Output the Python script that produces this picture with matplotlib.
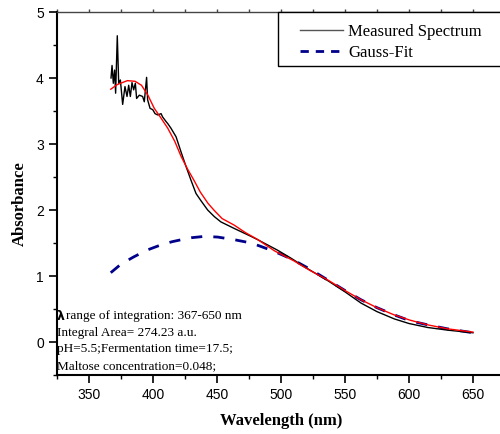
import matplotlib
matplotlib.use("Agg")
import matplotlib.pyplot as plt
from matplotlib.ticker import MultipleLocator
from matplotlib.lines import Line2D
from matplotlib.patches import Rectangle

# ---- data ----
measured_wl = [367.2, 368, 369, 370, 370.8, 372.1, 373.2, 374.5, 376.3, 378.1, 379.7, 381,
               382.3, 383.6, 384.9, 386.2, 387.2, 389.3, 391.9, 393.2, 395.0, 395.8, 397.7,
               399.8, 401.6, 403.7, 406.3, 407.5, 410.2, 411.5, 414, 418, 421.9, 425.8,
               429.7, 433.6, 437.5, 442.7, 447.9, 453, 463.5, 476.6, 481.8, 497.4, 507.8,
               520, 536.5, 550, 562.5, 575, 588.5, 600, 614.6, 630, 650]
measured_abs = [4.0, 4.19, 3.92, 4.12, 3.77, 4.64, 3.92, 3.97, 3.60, 3.87, 3.72, 3.89,
                3.72, 3.93, 3.82, 3.92, 3.69, 3.74, 3.72, 3.64, 4.01, 3.67, 3.54,
                3.52, 3.46, 3.44, 3.46, 3.41, 3.34, 3.31, 3.24, 3.11, 2.88, 2.66,
                2.45, 2.25, 2.14, 2.0, 1.90, 1.82, 1.72, 1.60, 1.55, 1.39, 1.27,
                1.12, 0.93, 0.76, 0.59, 0.46, 0.35, 0.28, 0.22, 0.18, 0.14]

fit_wl = [367, 372, 380, 386, 391, 396, 401, 406, 411.5, 417, 422, 427, 432, 437, 443, 448,
          454, 463.5, 472, 482, 495, 510, 523, 536.5, 550, 562.5, 575, 588.5, 601, 614.6,
          630, 650]
fit_abs = [3.83, 3.90, 3.96, 3.95, 3.89, 3.74, 3.54, 3.40, 3.24, 3.04, 2.81, 2.62, 2.45,
           2.27, 2.10, 1.99, 1.87, 1.77, 1.66, 1.55, 1.38, 1.23, 1.08, 0.94, 0.78, 0.64,
           0.52, 0.41, 0.33, 0.26, 0.20, 0.15]

gauss_wl = [367, 375, 385, 395, 406, 415, 424.5, 430, 440, 450.5, 463.5, 476.6, 484, 495,
            508, 523, 536.5, 550, 562.5, 575, 588.5, 601, 614.6, 630, 650]
gauss_abs = [1.05, 1.18, 1.29, 1.39, 1.47, 1.52, 1.56, 1.58, 1.60, 1.59, 1.55, 1.50, 1.45,
             1.37, 1.26, 1.10, 0.94, 0.78, 0.64, 0.52, 0.41, 0.32, 0.26, 0.20, 0.14]

x_ticks = [350, 400, 450, 500, 550, 600, 650]
y_ticks = [0, 1, 2, 3, 4, 5]
legend_labels = ["Measured Spectrum", "Gauss-Fit"]
info_lines = ["range of integration: 367-650 nm",
              "Integral Area= 274.23 a.u.",
              "pH=5.5;Fermentation time=17.5;",
              "Maltose concentration=0.048;"]

W, H = 500, 434
fig = plt.figure(figsize=(W / 100, H / 100), dpi=100)
ax = fig.add_axes([57 / W, 1 - 375 / H, 1 - 57 / W + 0.01, (375 - 12) / H])

ax.plot(measured_wl, measured_abs, color="black", lw=1.0, zorder=3)
ax.plot(fit_wl, fit_abs, color="red", lw=1.0, zorder=4)
ax.plot(gauss_wl, gauss_abs, color="#00008B", lw=2.0, ls=(0, (4, 4)), zorder=2)

ax.set_xlim(325, 675)
ax.set_ylim(-0.5, 5)
ax.set_xticks(x_ticks)
ax.set_yticks(y_ticks)
ax.xaxis.set_minor_locator(MultipleLocator(25))
ax.yaxis.set_minor_locator(MultipleLocator(0.5))

for s in ["left", "bottom"]:
    ax.spines[s].set_linewidth(1.5)
    ax.spines[s].set_color("black")
ax.spines["top"].set_linewidth(1.0)
ax.spines["top"].set_color("#444444")
ax.spines["right"].set_visible(False)

ax.tick_params(axis="both", which="major", direction="out", length=6, width=1.2,
               labelsize=10, top=False)
ax.tick_params(axis="both", which="minor", direction="out", length=3, width=1.0, top=False)
for lab in ax.get_xticklabels() + ax.get_yticklabels():
    lab.set_fontfamily("Liberation Sans")

# short ticks on the top edge
sec = ax.secondary_xaxis("top")
sec.set_xticks(x_ticks)
sec.xaxis.set_minor_locator(MultipleLocator(25))
sec.tick_params(which="both", direction="out", length=2, width=1.0, colors="#444444",
                labeltop=False)
sec.spines["top"].set_visible(False)

ax.set_xlabel("Wavelength (nm)", fontfamily="Liberation Serif", fontweight="bold",
              fontsize=12, labelpad=8)
ax.set_ylabel("Absorbance", fontfamily="Liberation Serif", fontweight="bold",
              fontsize=12)
ax.yaxis.set_label_coords((28 - 57) / 443, (375 - 204) / 363)

# info text
y0 = 316
fig.text(57 / W, 1 - y0 / H, "λ", fontfamily="DejaVu Sans", fontweight="bold",
         fontsize=9, va="center", ha="left")
fig.text(66 / W, 1 - y0 / H, info_lines[0], fontfamily="Liberation Serif",
         fontsize=9.5, va="center", ha="left")
for i, t in enumerate(info_lines[1:], start=1):
    fig.text(57 / W, 1 - (y0 + 16.7 * i) / H, t, fontfamily="Liberation Serif",
             fontsize=9.5, va="center", ha="left")

# legend (box clipped by right edge like the reference)
fig.patches.append(Rectangle((278 / W, 1 - 66 / H), 240 / W, 54 / H,
                             transform=fig.transFigure, fill=True, facecolor="white",
                             edgecolor="black", lw=1.0, zorder=5))
handles = [Line2D([], [], color="#555555", lw=1.0),
           Line2D([], [], color="#00008B", lw=2.0, ls=(0, (3, 2.5)))]
leg = fig.legend(handles, legend_labels, loc="upper left",
                 bbox_to_anchor=(300 / W, 1 - 24 / H), frameon=False,
                 prop={"family": "Liberation Serif", "size": 12},
                 handlelength=2.6, handletextpad=0.3, labelspacing=0.3,
                 borderaxespad=0, borderpad=0)
leg.set_zorder(6)

fig.savefig("out.png", dpi=100)
